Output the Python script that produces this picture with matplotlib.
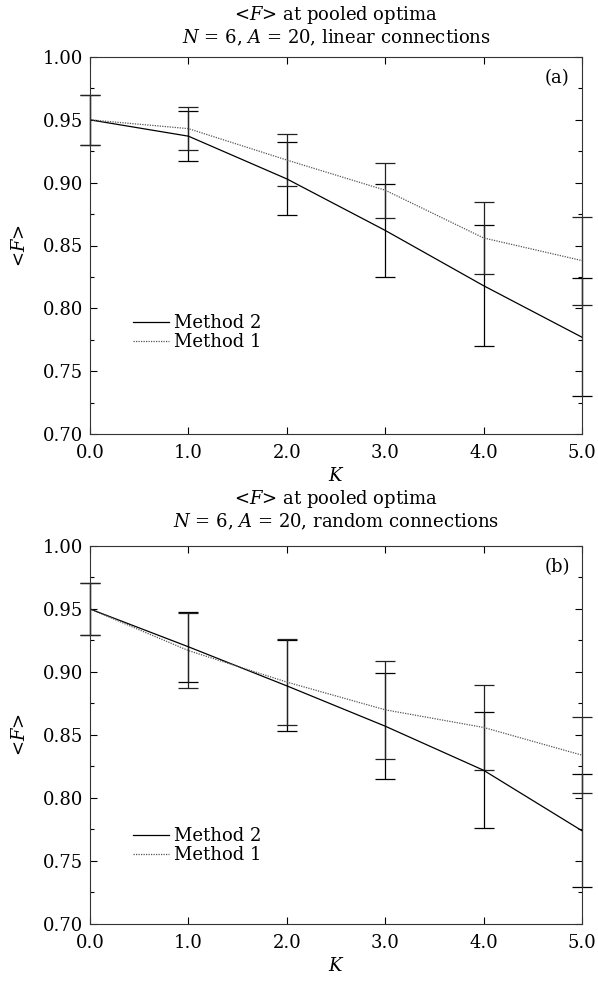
import numpy as np
import matplotlib
matplotlib.use("Agg")
import matplotlib.pyplot as plt
from matplotlib.ticker import MultipleLocator, FormatStrFormatter

plt.rcParams['font.family'] = ['DejaVu Serif']
plt.rcParams['mathtext.fontset'] = 'dejavuserif'

k_values = [0.0, 1.0, 2.0, 3.0, 4.0, 5.0]
x_ticks = [0.0, 1.0, 2.0, 3.0, 4.0, 5.0]
y_ticks = [0.70, 0.75, 0.80, 0.85, 0.90, 0.95, 1.00]

# (a) linear connections
lin_m2 = [0.950, 0.937, 0.903, 0.862, 0.818, 0.777]
lin_m2_err = [0.020, 0.020, 0.029, 0.037, 0.048, 0.047]
lin_m1 = [0.950, 0.943, 0.918, 0.894, 0.856, 0.838]
lin_m1_err = [0.020, 0.017, 0.021, 0.022, 0.029, 0.035]

# (b) random connections
rnd_m2 = [0.950, 0.920, 0.889, 0.857, 0.822, 0.774]
rnd_m2_err = [0.021, 0.028, 0.036, 0.042, 0.046, 0.045]
rnd_m1 = [0.950, 0.917, 0.892, 0.870, 0.856, 0.834]
rnd_m1_err = [0.021, 0.030, 0.034, 0.039, 0.034, 0.030]

panels = [
    ("linear connections", "(a)", lin_m2, lin_m2_err, lin_m1, lin_m1_err, 0.294, 10),
    ("random connections", "(b)", rnd_m2, rnd_m2_err, rnd_m1, rnd_m1_err, 0.232, 13.5),
]

fig = plt.figure(figsize=(5.98, 9.84), dpi=100)
W, H = 598.0, 984.0
boxes = [(90, 57, 582, 434), (90, 546, 582, 924)]


def draw_panel(ax, conn, tag, m2, m2e, m1, m1e, leg_y, title_pad):
    ax.errorbar(k_values, m2, yerr=m2e, fmt='none', ecolor='black',
                elinewidth=0.9, capsize=7, capthick=0.9, clip_on=False)
    ax.errorbar(k_values, m1, yerr=m1e, fmt='none', ecolor='#222222',
                elinewidth=0.9, capsize=7, capthick=0.9, clip_on=False)
    l2, = ax.plot(k_values, m2, color='black', lw=0.9, label='Method 2')
    l1, = ax.plot(k_values, m1, color='#555555', lw=0.9,
                  linestyle=(0, (1, 1)), label='Method 1')

    ax.set_xlim(0, 5)
    ax.set_ylim(0.70, 1.00)
    ax.set_xticks(x_ticks)
    ax.set_yticks(y_ticks)
    ax.xaxis.set_major_formatter(FormatStrFormatter('%.1f'))
    ax.yaxis.set_major_formatter(FormatStrFormatter('%.2f'))
    ax.yaxis.set_minor_locator(MultipleLocator(0.025))
    ax.tick_params(which='both', direction='in', top=True, right=True,
                   labelsize=13, width=0.8)
    ax.tick_params(which='major', length=5)
    ax.tick_params(which='minor', length=3)
    ax.tick_params(axis='x', pad=7)
    ax.tick_params(axis='y', pad=5)
    for s in ax.spines.values():
        s.set_linewidth(0.8)
        s.set_color('#333333')

    ax.set_title("<$F$> at pooled optima\n$N$ = 6, $A$ = 20, " + conn,
                 fontsize=13, pad=title_pad, linespacing=1.1)
    ax.set_xlabel("$K$", fontsize=13, labelpad=4)
    ax.set_ylabel("<$F$>", fontsize=13, labelpad=10)
    ax.text(0.975, 0.945, tag, transform=ax.transAxes, ha='right',
            va='center', fontsize=13)
    ax.legend(handles=[l2, l1], loc='center left',
              bbox_to_anchor=(0.087, leg_y - 0.025), frameon=False,
              fontsize=13, handlelength=2.0, handletextpad=0.3,
              labelspacing=0.05, borderpad=0, borderaxespad=0)


for (x0, y0, x1, y1), p in zip(boxes, panels):
    ax = fig.add_axes([x0 / W, 1 - y1 / H, (x1 - x0) / W, (y1 - y0) / H])
    draw_panel(ax, *p)

fig.savefig("out.png", dpi=100)
